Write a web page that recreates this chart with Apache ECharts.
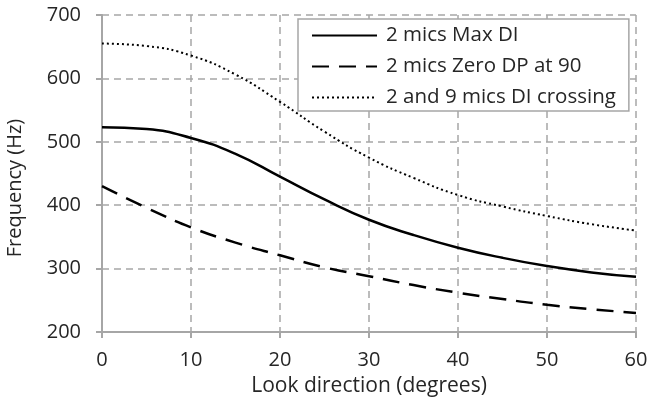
<!DOCTYPE html>
<html>
<head>
<meta charset="utf-8">
<script src="https://cdn.jsdelivr.net/npm/echarts@6/dist/echarts.min.js"></script>
<style>
  html, body { margin: 0; padding: 0; background: #fff; }
  #chart { width: 648px; height: 399px; }
</style>
</head>
<body>
<div id="chart"></div>
<script>
const lookDirection = [0, 5, 10, 15, 20, 25, 30, 35, 40, 45, 50, 55, 60]
const maxDI = [523, 520, 506, 481, 445, 409, 377, 353, 333, 317, 304, 294, 287]
const zeroDP = [430, 396, 365, 341, 321, 302, 288, 274, 262, 252, 243, 236, 230]
const diCrossing = [655, 651, 636, 606, 563, 516, 475, 443, 416, 398, 383, 370, 360]

const seriesNames = ['2 mics Max DI', '2 mics Zero DP at 90', '2 and 9 mics DI crossing']

const font = '"Open Sans", sans-serif'
const gridGray = '#a6a6a6'
const textColor = '#262626'

const pairs = (ys) => lookDirection.map((x, i) => [x, ys[i]])

const chart = echarts.init(document.getElementById('chart'))

chart.setOption({
  animation: false,
  backgroundColor: '#fff',
  grid: { left: 102, right: 12, top: 15, bottom: 67, containLabel: false, outerBoundsMode: 'none' },
  legend: {
    orient: 'vertical',
    left: 298,
    top: 19,
    itemWidth: 65,
    itemHeight: 18,
    itemGap: 10,
    padding: [6, 13, 3, 13],
    backgroundColor: '#fff',
    borderColor: gridGray,
    borderWidth: 1.5,
    itemStyle: { opacity: 0 },
    textStyle: { fontFamily: font, fontSize: 20.5, color: textColor, padding: [0, 0, 0, 4] },
    data: seriesNames,
  },
  xAxis: {
    type: 'value',
    min: 0,
    max: 60,
    interval: 10,
    name: 'Look direction (degrees)',
    nameLocation: 'middle',
    nameGap: 44,
    nameTextStyle: { fontFamily: font, fontSize: 21, color: textColor },
    axisLine: { lineStyle: { color: gridGray, width: 2 } },
    axisTick: { show: true, length: 6, lineStyle: { color: gridGray, width: 2 } },
    axisLabel: { fontFamily: font, fontSize: 20, color: textColor, margin: 18 },
    splitLine: { show: true, lineStyle: { color: gridGray, width: 1.5, type: [7, 5] } },
  },
  yAxis: {
    type: 'value',
    min: 200,
    max: 700,
    interval: 100,
    name: 'Frequency (Hz)',
    nameLocation: 'middle',
    nameGap: 77,
    nameTextStyle: { fontFamily: font, fontSize: 20, color: textColor, padding: [0, 29, 0, 0] },
    axisLine: { show: true, lineStyle: { color: gridGray, width: 2 } },
    axisTick: { show: true, length: 6, lineStyle: { color: gridGray, width: 2 } },
    axisLabel: { fontFamily: font, fontSize: 20, color: textColor, margin: 21 },
    splitLine: { show: true, lineStyle: { color: gridGray, width: 1.5, type: [7, 5] } },
  },
  series: [
    {
      name: seriesNames[0],
      type: 'line',
      smooth: true,
      symbol: 'none',
      data: pairs(maxDI),
      lineStyle: { color: '#000', width: 2.5, type: 'solid' },
      itemStyle: { color: '#000' },
    },
    {
      name: seriesNames[1],
      type: 'line',
      smooth: true,
      symbol: 'none',
      data: pairs(zeroDP),
      lineStyle: { color: '#000', width: 2.5, type: [17, 10] },
      itemStyle: { color: '#000' },
    },
    {
      name: seriesNames[2],
      type: 'line',
      smooth: true,
      symbol: 'none',
      data: pairs(diCrossing),
      lineStyle: { color: '#000', width: 2, type: [2, 3] },
      itemStyle: { color: '#000' },
    },
  ],
})
</script>
</body>
</html>
